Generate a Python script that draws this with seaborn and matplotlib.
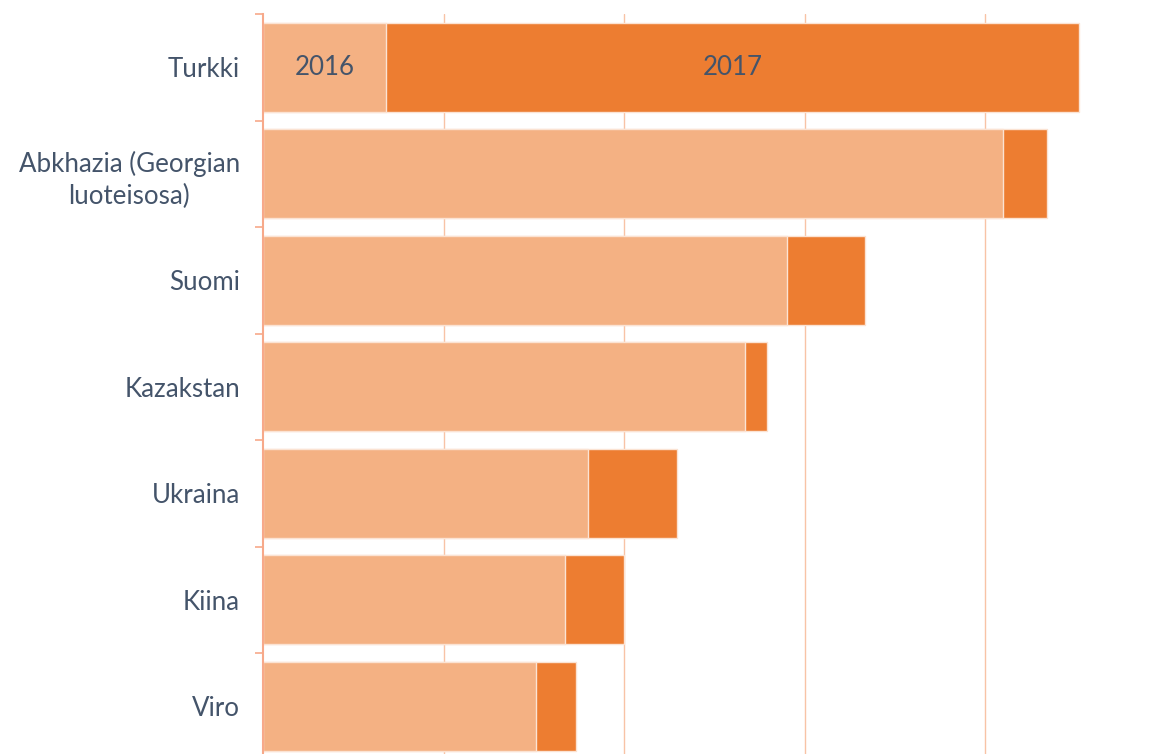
import numpy as np
import pandas as pd
import matplotlib
matplotlib.use('Agg')
import matplotlib.pyplot as plt
import seaborn as sns

# Values (unit = one gridline step)
countries = ['Turkki', 'Abkhazia (Georgian\nluoteisosa)', 'Suomi', 'Kazakstan',
             'Ukraina', 'Kiina', 'Viro']
v2016 = [0.68, 4.095, 2.90, 2.67, 1.80, 1.67, 1.51]
v2017 = [3.84, 0.245, 0.43, 0.12, 0.49, 0.33, 0.22]

df = pd.DataFrame({'maa': countries, '2016': v2016, '2017': v2017})
df['yht'] = df['2016'] + df['2017']

sns.set_theme(style='white')
plt.rcParams['font.family'] = ['Lato', 'DejaVu Sans']

c16 = '#F4B183'
c17 = '#ED7D31'
grid_c = '#F8C3A6'
txt_c = '#44546A'

fig = plt.figure(figsize=(11.55, 7.54), dpi=100)
ax = fig.add_axes([0.2281, -0.0073, 0.7814, 0.9887])

# stacked: total in dark, 2016 on top in light
sns.barplot(data=df, y='maa', x='yht', color=c17, orient='h', width=0.84,
            edgecolor='#FBE3D3', linewidth=1, saturation=1, ax=ax, zorder=2)
sns.barplot(data=df, y='maa', x='2016', color=c16, orient='h', width=0.84,
            edgecolor='#FBE3D3', linewidth=1, saturation=1, ax=ax, zorder=3)

ax.set_xlim(0, 5)
ax.set_ylim(len(countries) - 0.5, -0.5)
ax.set_xlabel('')
ax.set_ylabel('')
ax.set_xticks([1, 2, 3, 4])
ax.set_xticklabels([])
ax.tick_params(axis='x', length=0)
ax.grid(axis='x', color=grid_c, linewidth=1.0, zorder=0)
ax.set_axisbelow(True)

for s in ['top', 'right', 'bottom']:
    ax.spines[s].set_visible(False)
ax.spines['left'].set_color('#F7A98A')
ax.spines['left'].set_linewidth(1.5)
ax.spines['left'].set_zorder(4)

ax.set_yticks(np.arange(len(countries)))
ax.set_yticklabels(countries, fontsize=18.6, color=txt_c, ha='right')
for lab in ax.get_yticklabels():
    lab.set_multialignment('center')
    lab.set_linespacing(1.35)
ax.tick_params(axis='y', which='major', length=0, pad=17)
ax.set_yticks(np.arange(len(countries) + 1) - 0.5, minor=True)
ax.tick_params(axis='y', which='minor', length=6, width=1.2, color='#F7A98A', left=True)

# year labels inside the first bar
ax.text(v2016[0] / 2, 0, '2016', ha='center', va='center', fontsize=18.6, color=txt_c, zorder=5)
ax.text(v2016[0] + v2017[0] / 2, 0, '2017', ha='center', va='center', fontsize=18.6,
        color=txt_c, zorder=5)

fig.savefig('out.png', dpi=100)
